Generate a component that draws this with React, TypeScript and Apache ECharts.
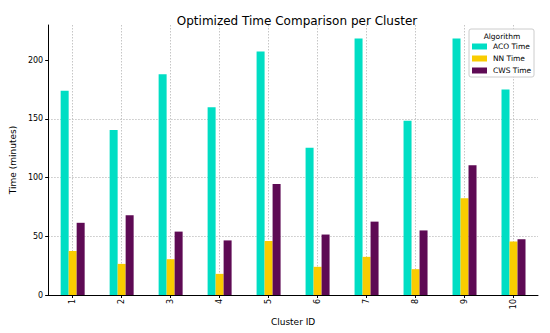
import React, { useEffect, useRef } from "react";
import * as echarts from "echarts";

const clusters = ["1", "2", "3", "4", "5", "6", "7", "8", "9", "10"];
const acoTime = [174, 140.5, 188, 160, 207.5, 125.5, 218.5, 148.5, 218.5, 175];
const nnTime = [37.5, 26.5, 30.5, 18, 46, 24, 32.5, 22, 82.5, 45.5];
const cwsTime = [61.5, 68, 54, 46.5, 94.5, 51.5, 62.5, 55, 110.5, 47.5];
const yTicks = [0, 50, 100, 150, 200];

const FONT = "DejaVu Sans";

export default function App() {
  const ref = useRef<HTMLDivElement>(null);
  useEffect(() => {
    if (!ref.current) return;
    const chart = echarts.init(ref.current, null, { renderer: "svg" });
    const gridLine = { show: true, lineStyle: { color: "#b8b8b8", type: [1.5, 1.5], width: 0.8 } };
    chart.setOption({
      animation: false,
      backgroundColor: "#ffffff",
      textStyle: { fontFamily: FONT },
      title: {
        text: "Optimized Time Comparison per Cluster",
        left: 292,
        textAlign: "center",
        top: 10,
        textStyle: { fontFamily: FONT, fontSize: 12, fontWeight: "normal", color: "#000" },
      },
      grid: { left: 45, right: 12, top: 25, bottom: 38, containLabel: false },
      xAxis: {
        type: "category",
        data: clusters,
        name: "Cluster ID",
        nameLocation: "middle",
        nameGap: 16,
        nameTextStyle: { fontFamily: FONT, fontSize: 9, color: "#000" },
        axisLine: { lineStyle: { color: "#000", width: 1 } },
        axisTick: { show: true, alignWithLabel: true, length: 3, lineStyle: { color: "#000" } },
        axisLabel: { rotate: 90, margin: 4, fontFamily: FONT, fontSize: 8, color: "#000" },
        splitLine: { ...gridLine, alignWithLabel: true },
      },
      yAxis: {
        type: "value",
        min: 0,
        max: 230,
        interval: 50,
        name: "Time (minutes)",
        nameLocation: "middle",
        nameGap: 21,
        nameTextStyle: { fontFamily: FONT, fontSize: 9, color: "#000" },
        axisLine: { show: true, lineStyle: { color: "#000", width: 1 } },
        axisTick: { show: true, length: 3, lineStyle: { color: "#000" }, customValues: yTicks },
        axisLabel: { margin: 5, fontFamily: FONT, fontSize: 8, color: "#000", customValues: yTicks },
        splitLine: { ...gridLine, showMaxLine: false, showMinLine: false },
      },
      legend: {
        orient: "vertical",
        left: 472,
        top: 42,
        itemWidth: 15,
        itemHeight: 6,
        itemGap: 3,
        icon: "rect",
        padding: 0,
        z: 10,
        textStyle: { fontFamily: FONT, fontSize: 7.5, color: "#000", lineHeight: 9, padding: [0, 0, 0, 1] },
        data: ["ACO Time", "NN Time", "CWS Time"],
      },
      graphic: {
        elements: [
          {
            type: "rect",
            z: 1,
            shape: { x: 469, y: 29, width: 65, height: 48, r: 2 },
            style: { fill: "rgba(255,255,255,0.85)", stroke: "#cccccc", lineWidth: 1 },
          },
          {
            type: "text",
            z: 11,
            x: 502,
            y: 36,
            style: {
              text: "Algorithm",
              fontFamily: FONT,
              fontSize: 7.5,
              fill: "#000",
              align: "center",
              verticalAlign: "middle",
            },
          },
          { type: "rect", z: 50, shape: { x: 3, y: 3, width: 3, height: 326 }, style: { fill: "#151515" } },
          { type: "rect", z: 50, shape: { x: 3, y: 3, width: 543, height: 3 }, style: { fill: "#151515" } },
          { type: "rect", z: 50, shape: { x: 544, y: 3, width: 2, height: 326 }, style: { fill: "#151515" } },
          { type: "rect", z: 50, shape: { x: 3, y: 327, width: 543, height: 2 }, style: { fill: "#151515" } },
        ],
      },
      series: [
        {
          name: "ACO Time",
          type: "bar",
          data: acoTime,
          barWidth: 8,
          barGap: "0%",
          itemStyle: { color: "#00DEC4" },
          z: 3,
        },
        {
          name: "NN Time",
          type: "bar",
          data: nnTime,
          barWidth: 8,
          barGap: "0%",
          itemStyle: { color: "#F9CC00" },
          z: 3,
        },
        {
          name: "CWS Time",
          type: "bar",
          data: cwsTime,
          barWidth: 8,
          barGap: "0%",
          itemStyle: { color: "#5E0A54" },
          z: 3,
        },
      ],
    });
    return () => chart.dispose();
  }, []);
  return <div ref={ref} style={{ width: 550, height: 333, margin: -8 }} />;
}
